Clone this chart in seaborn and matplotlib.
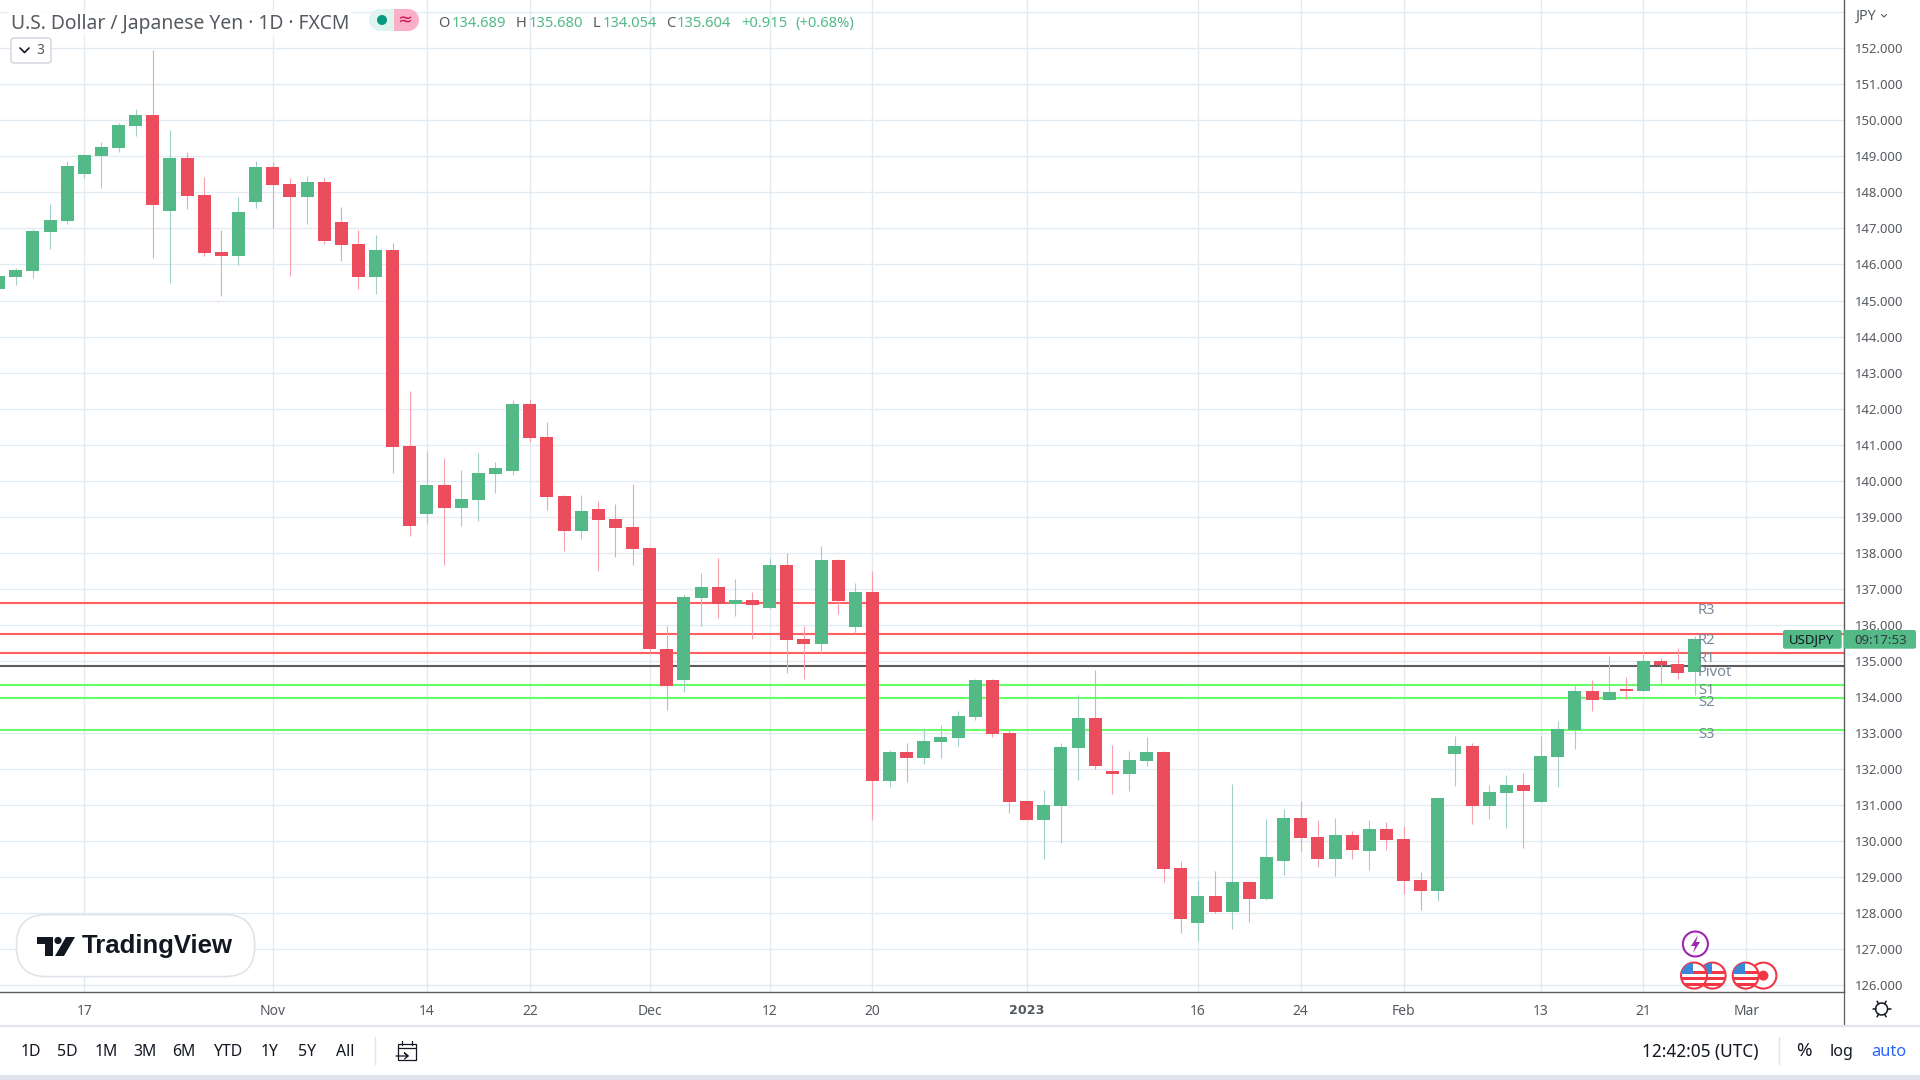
import numpy as np
import pandas as pd
import matplotlib
matplotlib.use("Agg")
import matplotlib.pyplot as plt
import seaborn as sns
from matplotlib.patches import Circle, FancyBboxPatch, Polygon, Rectangle

# USD/JPY daily candles, one entry per trading day
opens = [145.33, 145.65, 145.81, 146.89, 147.20, 148.51, 149.01, 149.23, 149.84, 150.15,
         147.48, 148.95, 147.93, 146.34, 146.24, 147.73, 148.70, 148.23, 147.87, 148.29,
         147.17, 146.56, 145.65, 146.40, 140.96, 139.07, 139.88, 139.24, 139.46, 140.18,
         140.26, 142.12, 141.21, 139.57, 138.60, 139.21, 138.93, 138.71, 138.12, 135.34,
         134.46, 136.74, 137.04, 136.57, 136.68, 136.48, 137.65, 135.60, 135.46, 137.79,
         135.93, 136.90, 131.66, 132.46, 132.30, 132.74, 132.85, 133.43, 134.46, 133.00,
         131.10, 130.58, 130.97, 132.57, 133.41, 131.93, 131.86, 132.21, 132.46, 129.25,
         127.72, 128.47, 128.03, 128.86, 128.39, 129.44, 130.64, 130.11, 129.50, 130.16,
         129.72, 130.33, 130.05, 128.92, 128.61, 132.41, 132.63, 130.97, 131.32, 131.55,
         131.08, 132.33, 133.07, 134.16, 133.90, 134.21, 134.16, 134.99, 134.91, 134.689]
highs = [145.72, 145.90, 146.98, 147.68, 148.87, 149.08, 149.40, 149.92, 150.31, 151.95,
         149.73, 149.12, 148.42, 146.95, 147.87, 148.87, 148.85, 148.40, 148.45, 148.42,
         147.59, 146.95, 146.82, 146.59, 142.50, 140.81, 140.62, 140.29, 140.77, 140.51,
         142.25, 142.25, 141.63, 139.60, 139.60, 139.43, 139.35, 139.91, 138.16, 135.98,
         136.86, 137.43, 137.85, 137.26, 136.91, 137.85, 137.98, 135.98, 138.18, 137.82,
         137.15, 137.48, 132.52, 132.72, 133.13, 133.21, 133.60, 134.49, 134.49, 133.08,
         131.10, 131.41, 132.72, 134.05, 134.76, 132.66, 132.49, 132.88, 132.49, 129.44,
         128.89, 129.17, 131.57, 128.89, 130.61, 130.88, 131.10, 130.58, 130.64, 130.27,
         130.58, 130.52, 130.42, 129.14, 131.19, 132.91, 132.72, 131.55, 131.83, 131.88,
         132.91, 133.32, 134.33, 134.46, 135.13, 134.54, 135.24, 135.07, 135.37, 135.680]
lows = [145.30, 145.42, 145.63, 146.43, 147.11, 148.41, 148.12, 149.12, 149.56, 146.18,
        145.48, 147.54, 146.24, 145.13, 145.99, 147.56, 147.01, 145.68, 147.12, 146.56,
        146.09, 145.32, 145.17, 140.21, 138.46, 138.79, 137.66, 138.74, 138.87, 139.66,
        140.15, 141.08, 139.18, 138.04, 138.38, 137.48, 137.89, 137.66, 135.23, 133.63,
        134.13, 135.96, 136.20, 136.24, 135.60, 136.43, 134.66, 134.51, 135.23, 136.29,
        135.77, 130.58, 131.50, 131.63, 132.15, 132.30, 132.63, 133.35, 132.88, 130.77,
        130.58, 129.50, 129.94, 131.69, 131.99, 131.30, 131.38, 132.08, 128.86, 127.45,
        127.23, 127.99, 127.55, 127.75, 128.35, 129.05, 129.72, 129.27, 129.02, 129.50,
        129.19, 129.75, 128.53, 128.09, 128.33, 131.52, 130.46, 130.61, 130.36, 129.81,
        131.08, 131.50, 132.55, 133.61, 133.90, 133.94, 134.16, 134.38, 134.49, 134.054]
closes = [145.68, 145.84, 146.92, 147.23, 148.73, 149.04, 149.26, 149.87, 150.15, 147.65,
          148.95, 147.90, 146.31, 146.24, 147.45, 148.70, 148.20, 147.87, 148.29, 146.65,
          146.54, 145.65, 146.40, 140.93, 138.74, 139.88, 139.24, 139.49, 140.21, 140.35,
          142.12, 141.18, 139.54, 138.60, 139.15, 138.90, 138.68, 138.11, 135.32, 134.29,
          136.76, 137.04, 136.58, 136.68, 136.54, 137.65, 135.57, 135.46, 137.79, 136.65,
          136.90, 131.66, 132.46, 132.30, 132.77, 132.88, 133.46, 134.46, 132.97, 131.08,
          130.58, 131.00, 132.60, 133.41, 132.08, 131.86, 132.24, 132.46, 129.22, 127.83,
          128.47, 128.02, 128.86, 128.39, 129.56, 130.64, 130.08, 129.50, 130.16, 129.75,
          130.33, 130.02, 128.89, 128.61, 131.19, 132.63, 130.97, 131.35, 131.55, 131.38,
          132.36, 133.10, 134.16, 133.90, 134.13, 134.16, 134.99, 134.88, 134.66, 135.604]

date_ticks = [5, 16, 25, 31, 38, 45, 51, 60, 70, 76, 82, 90, 96, 102]
date_labels = ["17", "Nov", "14", "22", "Dec", "12", "20", "2023", "16", "24", "Feb", "13", "21", "Mar"]
price_ticks = list(range(126, 154))

level_names = ["R3", "R2", "R1", "Pivot", "S1", "S2", "S3"]
level_values = [136.61, 135.75, 135.22, 134.86, 134.33, 133.97, 133.08]
level_colors = ["#FF5F5F", "#FF5F5F", "#FF5F5F", "#5D5D5D", "#66FF66", "#66FF66", "#66FF66"]
# labels sit a little under their line, and the pack is placed by hand
label_y = [610, 640, 659, 672, 690, 703, 735]

ranges = ["1D", "5D", "1M", "3M", "6M", "YTD", "1Y", "5Y", "All"]
range_x = [31, 67, 106, 145, 184, 228, 270, 307, 345]

GREEN = "#53B987"
RED = "#EB4D5C"
GREEN_WICK = "#A3CFCB"
RED_WICK = "#F5A0AC"
GRID = "#E1EBF1"
AXIS = "#5A5D62"
INK = "#131722"
GREY = "#555A60"

sns.set_style("whitegrid")
plt.rcParams["font.family"] = ["Noto Sans", "DejaVu Sans"]

W, H = 1920, 1080
df = pd.DataFrame({"day": range(len(opens)), "open": opens, "high": highs, "low": lows, "close": closes})
df["up"] = df["close"] >= df["open"]
df["bottom"] = df[["open", "close"]].min(axis=1)
df["body"] = (df["open"] - df["close"]).abs()

fig = plt.figure(figsize=(W / 100, H / 100), dpi=100, facecolor="white")
ax = fig.add_axes([0, 1 - 992 / H, 1843.7 / W, 992 / H])

for value, color in zip(level_values, level_colors):
    ax.axhline(value, color=color, lw=1.5, zorder=2)

ax.vlines(df["day"], df["low"], df["high"], lw=0.8, zorder=3,
          colors=[GREEN_WICK if u else RED_WICK for u in df["up"]])
sns.barplot(data=df, x="day", y="body", bottom=df["bottom"].values, native_scale=True,
            width=0.76, errorbar=None, color=GREEN, saturation=1, ax=ax, zorder=4, linewidth=0)
for patch, up in zip(ax.patches, df["up"]):
    patch.set_facecolor(GREEN if up else RED)

ax.set_xlim(0.08, 107.69)
ax.set_ylim(125.81, 153.34)
ax.set_xlabel("")
ax.set_ylabel("")
ax.set_xticks(date_ticks)
ax.set_xticklabels(date_labels, fontsize=10, color=GREY)
ax.get_xticklabels()[7].set(family="DejaVu Sans", fontweight="bold", fontsize=9.2)
ax.yaxis.tick_right()
ax.set_yticks(price_ticks)
ax.set_yticklabels([f"{p:.3f}" if p < 153 else "" for p in price_ticks], fontsize=9.4, color=GREY)
ax.tick_params(axis="x", length=0, pad=8.5)
ax.tick_params(axis="y", length=0, pad=8)
ax.grid(True, color=GRID, lw=1)
ax.set_axisbelow(True)
for name, spine in ax.spines.items():
    spine.set_visible(name in ("bottom", "right"))
    spine.set_color(AXIS)
    spine.set_linewidth(1)

# page furniture goes on a second axes that counts in pixels
ov = fig.add_axes([0, 0, 1, 1], facecolor="none")
ov.set_xlim(0, W)
ov.set_ylim(H, 0)
ov.axis("off")

box = dict(facecolor="white", edgecolor="none", alpha=0.85, pad=2)
ov.text(11, 23.5, "U.S. Dollar / Japanese Yen · 1D · FXCM", fontsize=13.9, color=GREY, va="center", bbox=box)

ohlc_parts = [(438.5, "O", GREY), (452, "134.689", GREEN), (516, "H", GREY), (528.5, "135.680", GREEN),
              (593, "L", GREY), (602.6, "134.054", GREEN), (666, "C", GREY), (677, "135.604", GREEN),
              (741, "+0.915", GREEN), (795, "(+0.68%)", GREEN)]
for x, s, c in ohlc_parts:
    ov.text(x, 23.5, s, fontsize=10.6, color=c, va="center")

# market status pill
ov.add_patch(FancyBboxPatch((380, 9), 28, 22, boxstyle="round,pad=0,rounding_size=0", fc="#DFF3EF", ec="none"))
ov.add_patch(Circle((380, 20), 11, fc="#DFF3EF", ec="none"))
ov.add_patch(Rectangle((394, 9), 14, 22, fc="#FBB0C8", ec="none"))
ov.add_patch(Circle((408, 20), 11, fc="#FBB0C8", ec="none"))
ov.add_patch(Circle((382, 20), 5, fc="#089981", ec="none"))
ov.text(405, 20, "≈", fontsize=13, color="#C2185B", ha="center", va="center", family="DejaVu Sans")

# collapsed indicators button
ov.add_patch(FancyBboxPatch((11, 38), 40, 25, boxstyle="round,pad=0,rounding_size=3", fc="white", ec="#CFD3DC", lw=1))
ov.plot([20, 24.5, 29], [48, 52.5, 48], color=INK, lw=1.2)
ov.text(40, 50.5, "3", fontsize=10, color=GREY, ha="center", va="center")

# axis header, tag and bottom bar
ov.text(1855, 16, "JPY", fontsize=10.4, color=GREY, va="center")
ov.plot([1881.5, 1884, 1886.5], [14.5, 17, 14.5], color=GREY, lw=0.8)

ov.add_patch(FancyBboxPatch((1783, 630), 58.7, 18.7, boxstyle="round,pad=0,rounding_size=2", fc=GREEN, ec="none"))
ov.add_patch(FancyBboxPatch((1843.5, 630), 72.5, 18.7, boxstyle="round,pad=0,rounding_size=2", fc=GREEN, ec="none"))
ov.text(1812, 640, "USDJPY", fontsize=9.5, color=INK, ha="center", va="center")
ov.text(1881, 640, "09:17:53", fontsize=9.5, color="#333A40", ha="center", va="center")

for name, y in zip(level_names, label_y):
    ov.text(1698, y, name, fontsize=10.6, color="#78899A", va="center")

ov.plot([1843.7, 1843.7], [992, 1026], color=AXIS, lw=0.9)
ov.plot([0, W], [1026, 1026], color="#E0E3EB", lw=1.5)
ov.add_patch(Rectangle((0, 1075), W, 5, fc="#E0E3EB", ec="none"))
for x, s in zip(range_x, ranges):
    ov.text(x, 1051.5, s, fontsize=11.4, color=INK, ha="center", va="center")
ov.plot([375, 375], [1037, 1064], color="#E0E3EB", lw=1)
ov.plot([1779, 1779], [1037, 1064], color="#E0E3EB", lw=1)
ov.text(1700, 1051.5, "12:42:05 (UTC)", fontsize=12.4, color=INK, ha="center", va="center")
ov.text(1804, 1051.5, "%", fontsize=13.5, color=INK, ha="center", va="center")
ov.text(1842, 1051.5, "log", fontsize=11.6, color=INK, ha="center", va="center")
ov.text(1889, 1051.5, "auto", fontsize=11.8, color="#2962FF", ha="center", va="center")

# calendar icon
ov.add_patch(Rectangle((398, 1044), 18, 16, fc="none", ec=INK, lw=0.9))
ov.plot([398, 416], [1048, 1048], color=INK, lw=0.9)
ov.plot([402, 402], [1041, 1045], color=INK, lw=0.9)
ov.plot([412, 412], [1041, 1045], color=INK, lw=0.9)
ov.plot([396, 408, 404.5, 408, 404.5], [1056, 1056, 1053, 1056, 1059], color=INK, lw=0.9)

# settings gear
ov.add_patch(Circle((1881.6, 1009), 6, fc="none", ec=INK, lw=1.1))
for a in np.deg2rad(np.arange(0, 360, 60)):
    ov.plot([1881.6 + 6 * np.cos(a), 1881.6 + 9 * np.cos(a)], [1009 + 6 * np.sin(a), 1009 + 9 * np.sin(a)],
            color=INK, lw=1.1)

# TradingView badge
ov.add_patch(FancyBboxPatch((16.5, 914.6), 238.2, 62, boxstyle="round,pad=0,rounding_size=30",
                            fc="white", ec="#E0E3EB", lw=1.2))
ov.add_patch(Polygon([(37, 937), (53, 937), (53, 956), (45, 956), (45, 944), (37, 944)], fc=INK, ec="none"))
ov.add_patch(Circle((58, 940.5), 3.6, fc=INK, ec="none"))
ov.add_patch(Polygon([(66, 937), (75, 937), (64, 956), (55, 956)], fc=INK, ec="none"))
ov.text(82, 946, "TradingView", fontsize=18.5, family="Liberation Sans", fontweight="bold", color=INK, va="center")

# economic event markers
ov.add_patch(Circle((1695.4, 944), 12.5, fc="white", ec="#9C27B0", lw=1.5))
ov.add_patch(Polygon([(1698, 935), (1691, 946), (1695, 946), (1693, 953), (1700, 942), (1696, 942)],
                     fc="#9C27B0", ec="none"))


def flag(x, kind):
    disc = Circle((x, 975.6), 13, fc="white", ec="#F23645", lw=1.5, zorder=5)
    ov.add_patch(disc)
    if kind == "us":
        for k in range(3):
            r = Rectangle((x - 13, 971 + k * 6), 26, 3, fc="#F23645", ec="none", zorder=5)
            ov.add_patch(r)
            r.set_clip_path(disc)
        r = Rectangle((x - 13, 963), 12, 11, fc="#3D85D8", ec="none", zorder=5)
        ov.add_patch(r)
        r.set_clip_path(disc)
    else:
        ov.add_patch(Circle((x, 975.6), 5, fc="#F23645", ec="none", zorder=5))


flag(1763.4, "jp")
flag(1745.7, "us")
flag(1712.6, "us")
flag(1694, "us")

fig.savefig("out.png", dpi=100)
